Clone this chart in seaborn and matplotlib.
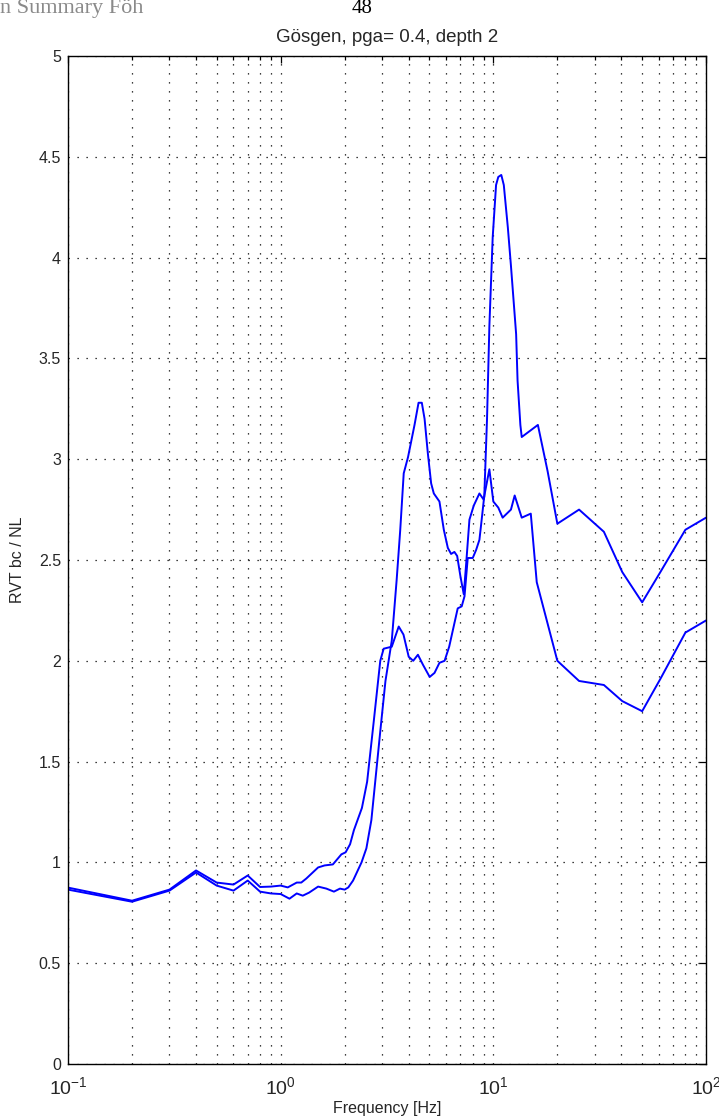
import numpy as np
import pandas as pd
import matplotlib
matplotlib.use("Agg")
import matplotlib.pyplot as plt
from matplotlib.ticker import FixedLocator, LogLocator, FuncFormatter, NullFormatter
import seaborn as sns

# Ratio curve 1: early rise, shoulder near 3.6 Hz, main peak near 11 Hz
freq_a = [0.1, 0.2, 0.3, 0.4, 0.5, 0.6, 0.7, 0.8, 0.9, 1.0, 1.08, 1.19, 1.25, 1.32,
          1.5, 1.61, 1.76, 1.86, 1.93, 2.02, 2.12, 2.21, 2.41, 2.55, 2.74, 2.94,
          3.05, 3.33, 3.59, 3.78, 4.0, 4.2, 4.42, 4.67, 5.02, 5.29, 5.58, 5.9, 6.2,
          6.8, 7.1, 7.32, 7.58, 8.0, 8.3, 8.6, 8.75, 9.07, 9.34, 9.58, 9.93, 10.3,
          10.55, 10.9, 11.2, 11.7, 12.1, 12.8, 13.0, 13.4, 13.6, 16.2, 18.0, 20.0,
          25.3, 33.1, 40.4, 50.1, 61.0, 80.0, 100.0]
ratio_a = [0.875, 0.81, 0.865, 0.96, 0.90, 0.89, 0.935, 0.878, 0.88, 0.885, 0.876, 0.90, 0.90, 0.92,
           0.975, 0.985, 0.99, 1.02, 1.04, 1.05, 1.09, 1.16, 1.27, 1.40, 1.70, 2.00,
           2.06, 2.07, 2.17, 2.13, 2.02, 2.00, 2.03, 1.98, 1.92, 1.94, 1.99, 2.00, 2.07,
           2.26, 2.27, 2.32, 2.51, 2.51, 2.55, 2.60, 2.67, 2.82, 3.20, 3.66, 4.10, 4.36,
           4.40, 4.41, 4.36, 4.15, 3.96, 3.62, 3.39, 3.17, 3.11, 3.17, 2.94, 2.68,
           2.75, 2.64, 2.44, 2.29, 2.44, 2.65, 2.71]

# Ratio curve 2: later rise, peak near 4.5 Hz
freq_b = [0.1, 0.2, 0.3, 0.4, 0.5, 0.6, 0.7, 0.8, 0.9, 1.0, 1.1, 1.19, 1.27, 1.36,
          1.5, 1.64, 1.78, 1.9, 2.0, 2.08, 2.19, 2.4, 2.53, 2.67, 2.94, 3.11, 3.33,
          3.51, 3.65, 3.79, 3.97, 4.26, 4.45, 4.61, 4.75, 4.92, 5.10, 5.25, 5.58,
          5.85, 6.11, 6.33, 6.56, 6.76, 7.0, 7.26, 7.45, 7.72, 8.09, 8.6, 9.0, 9.58,
          10.0, 10.55, 11.06, 12.1, 12.6, 13.6, 15.0, 16.0, 20.0, 25.3, 33.1, 40.4,
          50.1, 61.0, 80.0, 100.0]
ratio_b = [0.865, 0.805, 0.86, 0.95, 0.885, 0.86, 0.91, 0.855, 0.846, 0.843, 0.82, 0.846, 0.835, 0.85,
           0.88, 0.87, 0.855, 0.87, 0.865, 0.876, 0.91, 1.00, 1.07, 1.21, 1.65, 1.90, 2.10,
           2.40, 2.65, 2.93, 3.01, 3.17, 3.28, 3.28, 3.20, 3.03, 2.88, 2.83, 2.79,
           2.65, 2.56, 2.53, 2.54, 2.52, 2.42, 2.33, 2.48, 2.70, 2.77, 2.83, 2.80, 2.95,
           2.79, 2.76, 2.71, 2.75, 2.82, 2.71, 2.73, 2.39, 2.00, 1.90, 1.88, 1.80,
           1.75, 1.91, 2.14, 2.20]

y_ticks = [0, 0.5, 1, 1.5, 2, 2.5, 3, 3.5, 4, 4.5, 5]

title_text = "Gösgen, pga= 0.4, depth 2"
x_label = "Frequency [Hz]"
y_label = "RVT bc / NL"
header_text = "n Summary Föh"
page_number = "48"

sns.set_style("white")
plt.rcParams["font.family"] = ["Liberation Sans", "DejaVu Sans"]
plt.rcParams["mathtext.fontset"] = "custom"
plt.rcParams["mathtext.rm"] = "Liberation Sans"
plt.rcParams["mathtext.it"] = "Liberation Sans"
plt.rcParams["mathtext.bf"] = "Liberation Sans"

W, H = 719, 1119
fig = plt.figure(figsize=(W / 100, H / 100), dpi=100)
left, right, top, bottom = 68, 706, 56, 1064
ax = fig.add_axes([left / W, (H - bottom) / H, (right - left) / W, (bottom - top) / H])

df_a = pd.DataFrame({"freq": freq_a, "ratio": ratio_a})
df_b = pd.DataFrame({"freq": freq_b, "ratio": ratio_b})
sns.lineplot(data=df_a, x="freq", y="ratio", ax=ax, color="#0000ff", lw=1.4,
             sort=False, estimator=None)
sns.lineplot(data=df_b, x="freq", y="ratio", ax=ax, color="#0000ff", lw=1.4,
             sort=False, estimator=None)

ax.set_xscale("log")
ax.set_xlim(0.1, 100)
ax.set_ylim(0, 5)

ax.xaxis.set_major_locator(LogLocator(base=10, numticks=10))
ax.xaxis.set_minor_locator(LogLocator(base=10, subs=np.arange(2, 10), numticks=20))
ax.xaxis.set_minor_formatter(NullFormatter())
ax.xaxis.set_major_formatter(FuncFormatter(lambda v, p: r"$10^{%d}$" % int(round(np.log10(v)))))
ax.yaxis.set_major_locator(FixedLocator(y_ticks))
ax.yaxis.set_major_formatter(FuncFormatter(lambda v, p: f"{v:g}"))

dots = (0, (1, 6.2))
ax.grid(True, which="both", axis="x", color="black", lw=0.9, linestyle=dots)
ax.grid(True, which="major", axis="y", color="black", lw=0.9, linestyle=dots)

ax.tick_params(axis="both", which="both", direction="in", top=True, right=True,
               color="black", width=0.9)
ax.tick_params(axis="both", which="major", length=5)
ax.tick_params(axis="x", which="minor", length=3)
ax.tick_params(axis="y", which="major", labelsize=11.5, pad=5)
ax.tick_params(axis="x", which="major", labelsize=14, pad=9)

for s in ax.spines.values():
    s.set_color("black")
    s.set_linewidth(1.0)

ax.set_xlabel(x_label, fontsize=11.5, labelpad=2)
ax.set_ylabel(y_label, fontsize=11.5, labelpad=10)
ax.set_title(title_text, fontsize=13.5, pad=10)

fig.text(0.0, 1 - 13 / H, header_text, family=["Liberation Serif", "DejaVu Serif"],
         fontsize=16, color="#8a8a8a", ha="left", va="baseline")
fig.text(362 / W, 1 - 13 / H, page_number, family=["Liberation Serif", "DejaVu Serif"],
         fontsize=15, color="black", ha="center", va="baseline")

fig.savefig("out.png", dpi=100)
